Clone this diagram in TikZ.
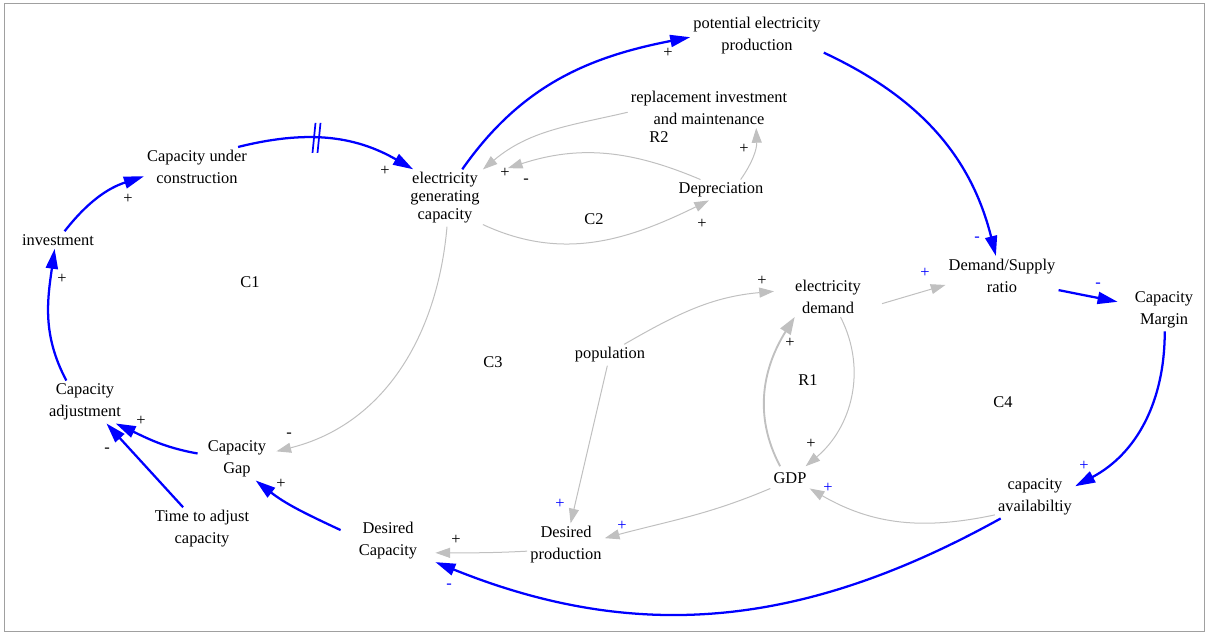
\documentclass[tikz,border=0pt]{standalone}
\usepackage{fontspec}
\setmainfont{Liberation Serif}
\usetikzlibrary{arrows.meta}
\definecolor{edgegray}{RGB}{192,192,192}
\definecolor{framegray}{RGB}{160,160,160}
\definecolor{linkblue}{RGB}{0,0,255}
\begin{document}
\begin{tikzpicture}[x=0.75pt,y=0.75pt,
  var/.style={align=center, inner sep=2.25pt, font=\fontsize{12.3}{16.5}\selectfont},
  lbl/.style={inner sep=0pt, font=\fontsize{12.3}{16.5}\selectfont},
  pol/.style={inner sep=0pt, font=\fontsize{12.3}{14}\selectfont},
  bpol/.style={pol, text=linkblue},
  blink/.style={draw=linkblue, line width=1.7pt, -{Triangle[length=15pt,width=9pt]}},
  glink/.style={draw=edgegray, line width=0.75pt, -{Triangle[length=11pt,width=7.5pt]}},
  gthick/.style={draw=edgegray, line width=1.4pt, -{Triangle[length=13pt,width=9pt]}},
  hashmark/.style={draw=linkblue, line width=1.3pt},
]
\useasboundingbox (0,0) rectangle (1209,-633);
\draw[framegray, line width=0.75pt] (4.5,-3.5) rectangle (1204.5,-631.5);

% variables
\node[var] (pep) at (757,-36) {potential electricity\\production};
\node[var] (rim) at (709,-108) {replacement investment\\and maintenance};
\node[var] (cuc) at (197,-167) {Capacity under\\construction};
\node[var, font=\fontsize{12.3}{13.5}\selectfont] (egc) at (445,-198) {electricity\\generating\\capacity};
\node[var] (dep) at (721,-190) {Depreciation};
\node[var] (inv) at (58,-240) {investment};
\node[var] (dsr) at (1002,-276) {Demand/Supply\\ratio};
\node[var, inner xsep=12.75pt] (cm) at (1164,-310) {Capacity\\Margin};
\node[var, inner xsep=15.75pt] (ed) at (828,-297) {electricity\\demand};
\node[var] (pop) at (610,-355) {population};
\node[var] (ca) at (85,-402) {Capacity\\adjustment};
\node[var, inner xsep=7.5pt] (cg) at (237,-459) {Capacity\\Gap};
\node[var, inner ysep=4.5pt] (gdp) at (790,-478) {GDP};
\node[var] (cav) at (1035,-497) {capacity\\availabiltiy};
\node[var] (tta) at (202,-529) {Time to adjust\\capacity};
\node[var, inner xsep=13.5pt] (dc) at (388,-541) {Desired\\Capacity};
\node[var] (dp) at (566,-545) {Desired\\production};

% loop labels
\node[lbl] (C1) at (250,-282) {C1};
\node[lbl] (C2) at (594,-219) {C2};
\node[lbl] (C3) at (493,-362) {C3};
\node[lbl] (C4) at (1003,-402) {C4};
\node[lbl] (R1) at (808,-380) {R1};
\node[lbl] (R2) at (659,-137) {R2};

% blue links
\draw[blink] (inv.53) to[out=52,in=198] (cuc.190);
\draw[blink] (cuc.26) to[out=14,in=150] coordinate[pos=0.43] (hash) (egc.138);
\draw[hashmark] ([shift={(-4,-15)}]hash) -- ([shift={(-1,15)}]hash);
\draw[hashmark] ([shift={(1,-15)}]hash) -- ([shift={(4,15)}]hash);
\draw[blink] (ca.131) to[out=118,in=262] (inv.249);
\draw[blink] (cg.172) to[out=170,in=335] (ca.325);
\draw[blink] (tta.131) -- (ca.315);
\draw[blink] (dc.167) to[out=155,in=322] (cg.311);
\draw[blink] (cav.212) to[out=209,in=338] (dc.336);
\draw[blink] (cm.272) to[out=270,in=28] (cav.15);
\draw[blink] (dsr.346) -- (cm.170);
\draw[blink] (pep.346) to[out=335,in=104] (dsr.107);
\draw[blink] (egc.59) to[out=55,in=191] (pep.181);

% gray links
\draw[glink] (rim.183) to[out=193,in=40] (egc.37);
\draw[glink] (dep.153) to[out=157,in=18] ([shift={(25,8)}]egc.30);
\draw[glink] (dep.28) to[out=55,in=272] (rim.337);
\draw[glink] (egc.325) to[out=335,in=206] (dep.221);
\draw[glink] (egc.274) to[out=265,in=14] (cg.11);
\draw[glink] (pop.37) to[out=30,in=185] (ed.174);
\draw[glink] (pop.256) -- (dp.78);
\draw[glink] (gdp.208) to[out=203,in=15] (dp.10);
\draw[glink] (dp.189) to[out=183,in=0] (dc.346);
\draw[gthick] (gdp.130) to[out=118,in=238] (ed.211);
\draw[glink] (ed.302) to[out=297,in=40] (gdp.37);
\draw[glink] (cav.204) to[out=192,in=330] (gdp.332);
\draw[glink] (ed.353) -- (dsr.189);

% polarities
\node[pol] (p1) at (128,-199) {+};
\node[pol] (p2) at (385,-171) {+};
\node[pol] (p3) at (62,-279) {+};
\node[pol] (p4) at (668,-53) {+};
\node[pol] (p5) at (505,-173) {+};
\node[pol] (p6) at (526,-181) {-};
\node[pol] (p7) at (744,-149) {+};
\node[pol] (p8) at (702,-224) {+};
\node[pol] (p9) at (762,-281) {+};
\node[bpol] (p10) at (977,-239) {-};
\node[bpol] (p11) at (925,-273) {+};
\node[bpol] (p12) at (1098,-285) {-};
\node[pol] (p13) at (141,-421) {+};
\node[pol] (p14) at (107,-450) {-};
\node[pol] (p15) at (289,-435) {-};
\node[pol] (p16) at (281,-484) {+};
\node[bpol] (p17) at (560,-504) {+};
\node[bpol] (p18) at (622,-526) {+};
\node[pol] (p19) at (456,-540) {+};
\node[bpol] (p20) at (449,-586) {-};
\node[pol] (p21) at (790,-343) {+};
\node[pol] (p22) at (811,-444) {+};
\node[bpol] (p23) at (828,-488) {+};
\node[bpol] (p24) at (1084,-466) {+};
\end{tikzpicture}
\end{document}
